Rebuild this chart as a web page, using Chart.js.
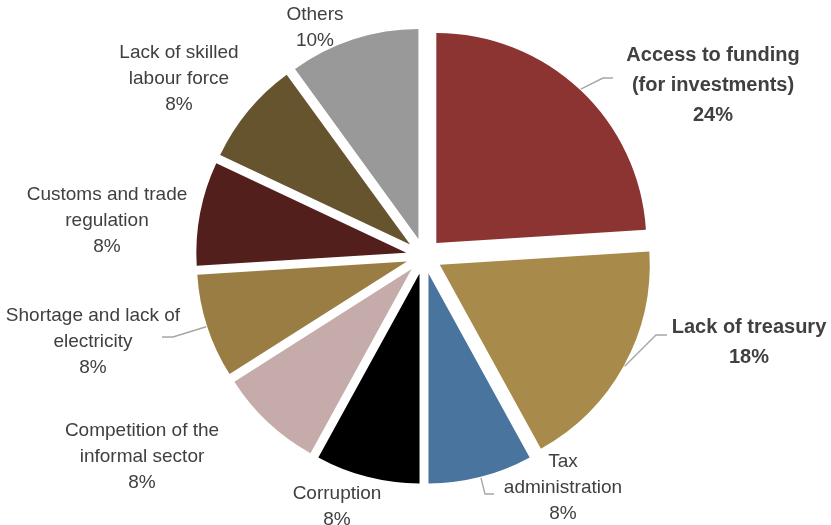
<!DOCTYPE html>
<html lang="en">
<head>
<meta charset="UTF-8">
<title>Main obstacles to business</title>
<script src="https://cdn.jsdelivr.net/npm/chart.js"></script>
<style>
  body { margin: 0; background: #ffffff; }
  #wrap { width: 831px; height: 525px; }
</style>
</head>
<body>
<div id="wrap"><canvas id="pie" width="831" height="525"></canvas></div>
<script>
// slices, clockwise from 12 o'clock
const categories = [
  "Access to funding\n(for investments)",
  "Lack of treasury",
  "Tax\nadministration",
  "Corruption",
  "Competition of the\ninformal sector",
  "Shortage and lack of\nelectricity",
  "Customs and trade\nregulation",
  "Lack of skilled\nlabour force",
  "Others"
];
const shares = [24, 18, 8, 8, 8, 8, 8, 8, 10];
const emphasis = [true, true, false, false, false, false, false, false, false];

const colors = ["#8B3431", "#A88A4B", "#48749E", "#000000", "#C5ABAA", "#9A7D42", "#531F1C", "#66542F", "#999999"];

// centre of the first label line for each slice
const labelPos = [[713, 55], [749, 327], [563, 462], [337, 494], [142, 431], [93, 316], [107, 195], [179, 53], [315, 15]];
// leader lines: elbow + end point, starting from the slice edge
const leaders = [
  [[603, 78], [613, 78]],
  [[656, 335], [667, 335]],
  [[485, 494], [494, 494]],
  null, null,
  [[173, 337], [162, 337]],
  null, null, null
];

const EXPLODE = 18;
const FONT = '"Liberation Sans", Arial, sans-serif';

// push every slice out along its bisector
const explode = {
  id: 'explode',
  afterDatasetUpdate(chart) {
    chart.getDatasetMeta(0).data.forEach(arc => {
      const mid = (arc.startAngle + arc.endAngle) / 2;
      arc.x += Math.cos(mid) * EXPLODE;
      arc.y += Math.sin(mid) * EXPLODE;
    });
  }
};

const sliceLabels = {
  id: 'sliceLabels',
  afterDraw(chart) {
    const ctx = chart.ctx;
    const arcs = chart.getDatasetMeta(0).data;
    ctx.save();
    arcs.forEach((arc, i) => {
      const lead = leaders[i];
      if (lead) {
        const mid = (arc.startAngle + arc.endAngle) / 2;
        const r = arc.outerRadius + 1;
        ctx.beginPath();
        ctx.moveTo(arc.x + Math.cos(mid) * r, arc.y + Math.sin(mid) * r);
        lead.forEach(p => ctx.lineTo(p[0], p[1]));
        ctx.strokeStyle = '#A6A6A6';
        ctx.lineWidth = 1.4;
        ctx.stroke();
      }
      const lines = categories[i].split('\n').concat(shares[i] + '%');
      const lh = emphasis[i] ? 30 : 26;
      ctx.font = emphasis[i] ? 'bold 20px ' + FONT : '19px ' + FONT;
      ctx.fillStyle = '#404040';
      ctx.textAlign = 'center';
      ctx.textBaseline = 'middle';
      lines.forEach((t, k) => ctx.fillText(t, labelPos[i][0], labelPos[i][1] + k * lh));
    });
    ctx.restore();
  }
};

new Chart(document.getElementById('pie'), {
  type: 'pie',
  data: {
    labels: categories,
    datasets: [{
      data: shares,
      backgroundColor: colors,
      borderWidth: 0
    }]
  },
  options: {
    responsive: false,
    animation: false,
    radius: 210,
    layout: { padding: { left: 17, right: 0, top: 0, bottom: 13 } },
    plugins: {
      legend: { display: false },
      tooltip: { enabled: false }
    }
  },
  plugins: [explode, sliceLabels]
});
</script>
</body>
</html>
